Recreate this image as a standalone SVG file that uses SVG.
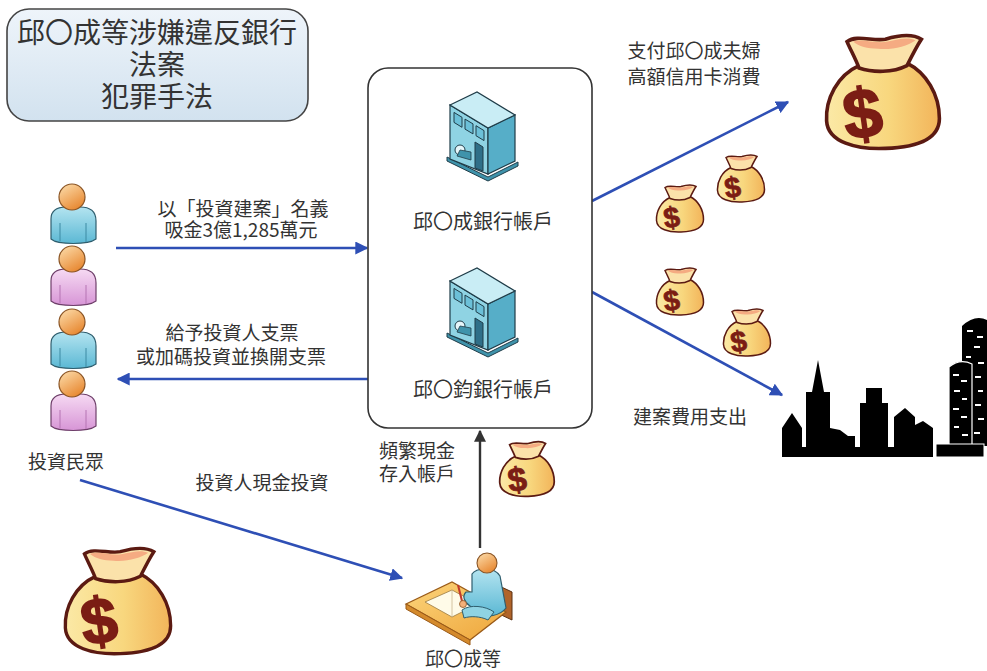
<svg xmlns="http://www.w3.org/2000/svg" xmlns:xlink="http://www.w3.org/1999/xlink" width="987" height="671" viewBox="0 0 987 671">
  <style>
    text { font-family: "Noto Sans CJK TC", "Noto Sans CJK SC", "Liberation Sans", sans-serif; fill: #333; }
    .lbl { font-size: 19px; text-anchor: middle; }
    .wire { fill: none; stroke: #2e4fb5; stroke-width: 2.6; }
    .wire-dark { fill: none; stroke: #333; stroke-width: 2.4; }
    .frame { fill: #fff; stroke: #333; stroke-width: 1.6; }
    .win { fill: #fff; }
  </style>
  <defs>
    <linearGradient id="titleFill" x1="0" y1="0" x2="0" y2="1">
      <stop offset="0" stop-color="#eef4fa"/>
      <stop offset="1" stop-color="#d2e2ef"/>
    </linearGradient>
    <linearGradient id="bagBody" x1="0" y1="0" x2="1" y2="0">
      <stop offset="0" stop-color="#fbe9a6"/>
      <stop offset="0.55" stop-color="#f8d77e"/>
      <stop offset="1" stop-color="#f2b45a"/>
    </linearGradient>
    <linearGradient id="headFill" x1="0" y1="0" x2="0.6" y2="1">
      <stop offset="0" stop-color="#fde0b0"/>
      <stop offset="1" stop-color="#e88a34"/>
    </linearGradient>
    <linearGradient id="blueBody" x1="0" y1="0" x2="0" y2="1">
      <stop offset="0" stop-color="#b4e4f0"/>
      <stop offset="1" stop-color="#5bb8d4"/>
    </linearGradient>
    <linearGradient id="pinkBody" x1="0" y1="0" x2="0" y2="1">
      <stop offset="0" stop-color="#f6daf3"/>
      <stop offset="1" stop-color="#d795d6"/>
    </linearGradient>
    <linearGradient id="deskFill" x1="0" y1="0" x2="1" y2="1">
      <stop offset="0" stop-color="#fcd57c"/>
      <stop offset="1" stop-color="#eea53a"/>
    </linearGradient>
    <marker id="ah" viewBox="0 0 10 10" refX="9" refY="5" markerWidth="5" markerHeight="5" orient="auto">
      <path d="M0,0 L10,5 L0,10 Z" fill="#2e4fb5"/>
    </marker>
    <marker id="ahDark" viewBox="0 0 10 10" refX="9" refY="5" markerWidth="5" markerHeight="5" orient="auto">
      <path d="M0,0 L10,5 L0,10 Z" fill="#333"/>
    </marker>

    <!-- money bag, drawn in a 100x100 box -->
    <symbol id="bag" viewBox="0 0 100 100" overflow="visible">
      <path d="M30,28 C12,36 2,56 3,74 C4,92 28,98 52,97 C78,96 97,90 97,72 C97,52 86,34 70,26 Z" fill="url(#bagBody)" stroke="#5b1a12" stroke-width="3"/>
      <path d="M20,8 C28,2 42,8 52,6 C62,3 74,1 82,6 C78,12 74,20 70,28 C58,34 42,34 30,30 C27,22 23,15 20,8 Z" fill="#fbe2aa" stroke="#5b1a12" stroke-width="3"/>
      <path d="M25,8 C33,5 44,10 54,8 C63,6 71,4 77,7 C70,12 58,15 46,14 C37,14 30,12 25,8 Z" fill="#f5ab82"/>
      <text x="33" y="88" font-size="58" font-weight="bold" text-anchor="middle" transform="rotate(-8 33 68)" style="fill:#7b1d14;font-family:'Liberation Sans',sans-serif;stroke:#7b1d14;stroke-width:1.5">$</text>
    </symbol>

    <!-- bank building icon -->
    <g id="building">
      <polygon points="2,67 43,87 73,72 73,76 43,91 2,71" fill="#3f93ab" stroke="#1f3c48" stroke-width="1"/>
      <polygon points="5,15 43,38 43,84 5,69" fill="#8fd3e3" stroke="#1f3c48" stroke-width="1.2"/>
      <polygon points="43,38 70,25 70,71 43,84" fill="#56aec8" stroke="#1f3c48" stroke-width="1.2"/>
      <polygon points="5,15 32,2 70,25 43,38" fill="#c9edf5" stroke="#1f3c48" stroke-width="1.2"/>
      <polygon points="9,22.4 17,27.3 17,37.3 9,32.4" fill="#6cc0d8" stroke="#1f3c48" stroke-width="1"/>
      <polygon points="20,29.1 28,33.9 28,43.9 20,39.1" fill="#6cc0d8" stroke="#1f3c48" stroke-width="1"/>
      <polygon points="31,35.7 39,40.6 39,50.6 31,45.7" fill="#6cc0d8" stroke="#1f3c48" stroke-width="1"/>
      <polygon points="30,52 38,57 38,81 30,78" fill="#2f6f88" stroke="#1f3c48" stroke-width="1"/>
      <circle cx="15" cy="60" r="5" fill="#e6f6fa" stroke="#1f3c48" stroke-width="1"/>
      <path d="M15,60 L26,62 L26,70 L12,66 Z" fill="#3f93ab" stroke="#1f3c48" stroke-width="0.8"/>
    </g>

    <!-- standing person, head centre at 0,0 -->
    <g id="person-blue">
      <path d="M-21,42 L-21,22 C-21,13 -14,10 -6,10 L8,10 C18,10 24,14 24,24 L24,42 C16,48 -14,48 -21,42 Z" fill="url(#blueBody)" stroke="#2f5e6e" stroke-width="1.2"/>
      <path d="M-12,26 L-12,44 M14,26 L14,45" stroke="#3d8aa3" stroke-width="1" fill="none"/>
      <circle cx="0" cy="0" r="13" fill="url(#headFill)" stroke="#8a5424" stroke-width="1.2"/>
    </g>
    <g id="person-pink">
      <path d="M-21,42 L-21,22 C-21,13 -14,10 -6,10 L8,10 C18,10 24,14 24,24 L24,42 C16,48 -14,48 -21,42 Z" fill="url(#pinkBody)" stroke="#6e3f6a" stroke-width="1.2"/>
      <path d="M-12,26 L-12,44 M14,26 L14,45" stroke="#b574b3" stroke-width="1" fill="none"/>
      <circle cx="0" cy="0" r="13" fill="url(#headFill)" stroke="#8a5424" stroke-width="1.2"/>
    </g>
  </defs>

  <rect width="987" height="671" fill="#fff"/>

  <!-- title -->
  <g id="title">
    <rect x="7" y="9" width="301" height="112" rx="22" fill="url(#titleFill)" stroke="#444" stroke-width="1.6"/>
    <text x="157" y="43" font-size="28" text-anchor="middle">邱〇成等涉嫌違反銀行</text>
    <text x="157" y="75" font-size="28" text-anchor="middle">法案</text>
    <text x="157" y="107" font-size="28" text-anchor="middle">犯罪手法</text>
  </g>

  <!-- connectors -->
  <g id="connectors">
    <line class="wire" x1="116" y1="248" x2="367" y2="248" marker-end="url(#ah)"/>
    <line class="wire" x1="368" y1="379" x2="118" y2="379" marker-end="url(#ah)"/>
    <line class="wire" x1="80" y1="480" x2="402" y2="578" marker-end="url(#ah)"/>
    <line class="wire-dark" x1="480" y1="548" x2="480" y2="431" marker-end="url(#ahDark)"/>
    <line class="wire" x1="592" y1="201" x2="788" y2="102" marker-end="url(#ah)"/>
    <line class="wire" x1="592" y1="292" x2="782" y2="395" marker-end="url(#ah)"/>

    <text class="lbl" x="243" y="216">以「投資建案」名義</text>
    <text class="lbl" x="241" y="237">吸金3億1,285萬元</text>
    <text class="lbl" x="232" y="340">給予投資人支票</text>
    <text class="lbl" x="231" y="364">或加碼投資並換開支票</text>
    <text class="lbl" x="262" y="490">投資人現金投資</text>
    <text class="lbl" x="417" y="458">頻繁現金</text>
    <text class="lbl" x="417" y="481">存入帳戶</text>
    <text class="lbl" x="694" y="58">支付邱〇成夫婦</text>
    <text class="lbl" x="694" y="84">高額信用卡消費</text>
    <text class="lbl" x="690" y="424">建案費用支出</text>
  </g>

  <!-- bank accounts -->
  <g id="banks">
    <rect class="frame" x="368" y="68" width="224" height="360" rx="20"/>
    <use href="#building" transform="translate(445,90)"/>
    <text x="483" y="229" font-size="20" text-anchor="middle">邱〇成銀行帳戶</text>
    <use href="#building" transform="translate(445,266)"/>
    <text x="483" y="397" font-size="20" text-anchor="middle">邱〇鈞銀行帳戶</text>
  </g>

  <!-- investors -->
  <g id="investors">
    <use href="#person-blue" transform="translate(72,197)"/>
    <use href="#person-pink" transform="translate(72,259)"/>
    <use href="#person-blue" transform="translate(72,322)"/>
    <use href="#person-pink" transform="translate(72,384)"/>
    <text x="66" y="469" font-size="19" text-anchor="middle">投資民眾</text>
  </g>

  <!-- person at desk -->
  <g id="depositor">
    <path d="M495,584 L512,592 L512,620 L495,612 Z" fill="#b0642a" stroke="#5a3012" stroke-width="1"/>
    <polygon points="406,604 452,582 506,612 470,640" fill="url(#deskFill)" stroke="#9a5a18" stroke-width="1.3"/>
    <polygon points="406,604 470,640 470,645 406,609" fill="#d48a2c" stroke="#9a5a18" stroke-width="1"/>
    <polygon points="425,602 452,590 478,604 452,617" fill="#fffbe8" stroke="#9a7a40" stroke-width="0.8"/>
    <line x1="452" y1="590" x2="452" y2="617" stroke="#c9b890" stroke-width="0.8"/>
    <line x1="458" y1="585" x2="463" y2="605" stroke="#c0392b" stroke-width="2"/>
    <path d="M472,574 C476,568 494,566 500,576 L506,608 C500,616 486,618 480,614 L470,606 C464,602 462,596 466,592 L472,592 Z" fill="url(#blueBody)" stroke="#2f5e6e" stroke-width="1.2"/>
    <path d="M462,610 C470,604 486,606 494,612 L488,620 C480,616 470,616 464,618 Z" fill="#8fd3e3" stroke="#2f5e6e" stroke-width="1"/>
    <circle cx="487" cy="563" r="10" fill="url(#headFill)" stroke="#8a5424" stroke-width="1.1"/>
    <circle cx="463" cy="604" r="3.5" fill="#f3b07a" stroke="#8a5424" stroke-width="0.8"/>
    <text x="463" y="666" font-size="19" text-anchor="middle">邱〇成等</text>
  </g>

  <!-- money bags -->
  <g id="money">
    <use href="#bag" x="818" y="32" width="130" height="120"/>
    <use href="#bag" x="62" y="542" width="112" height="118"/>
    <use href="#bag" x="655" y="182" width="50" height="53"/>
    <use href="#bag" x="716" y="153" width="50" height="51"/>
    <use href="#bag" x="655" y="265" width="50" height="53"/>
    <use href="#bag" x="722" y="307" width="50" height="51"/>
    <use href="#bag" x="496" y="440" width="62" height="58"/>
  </g>

  <!-- city skyline -->
  <g id="city">
    <path d="M782,457 L782,428 L792,413 L802,428 L802,447 L806,447 L806,392 L812,392 L818,360 L824,392 L830,392 L830,428 L840,430 L848,436 L855,436 L855,447 L860,447 L860,403 L866,403 L866,388 L882,388 L882,403 L888,403 L888,447 L894,447 L894,417 L905,408 L915,417 L915,425 L923,421 L933,428 L933,457 Z" fill="#000"/>
    <path d="M962,446 L962,326 Q975,314 987,320 L987,446 Z" fill="#000"/>
    <path d="M949,446 L949,367 Q960,358 972,364 L972,446 Z" fill="#000" stroke="#fff" stroke-width="1.2"/>
    <rect x="936" y="444" width="48" height="13" fill="#000" stroke="#fff" stroke-width="1"/>
    <g class="win">
      <rect x="967" y="330" width="6" height="2"/><rect x="977" y="336" width="6" height="2"/>
      <rect x="974" y="346" width="6" height="2"/><rect x="966" y="356" width="5" height="2"/>
      <rect x="978" y="362" width="6" height="2"/><rect x="975" y="376" width="6" height="2"/>
      <rect x="978" y="390" width="5" height="2"/><rect x="975" y="404" width="6" height="2"/>
      <rect x="978" y="418" width="6" height="2"/><rect x="974" y="432" width="6" height="2"/>
      <rect x="953" y="374" width="6" height="2"/><rect x="961" y="380" width="6" height="2"/>
      <rect x="954" y="390" width="6" height="2"/><rect x="962" y="398" width="5" height="2"/>
      <rect x="953" y="408" width="6" height="2"/><rect x="961" y="416" width="6" height="2"/>
      <rect x="954" y="426" width="5" height="2"/><rect x="962" y="434" width="6" height="2"/>
    </g>
  </g>
</svg>
